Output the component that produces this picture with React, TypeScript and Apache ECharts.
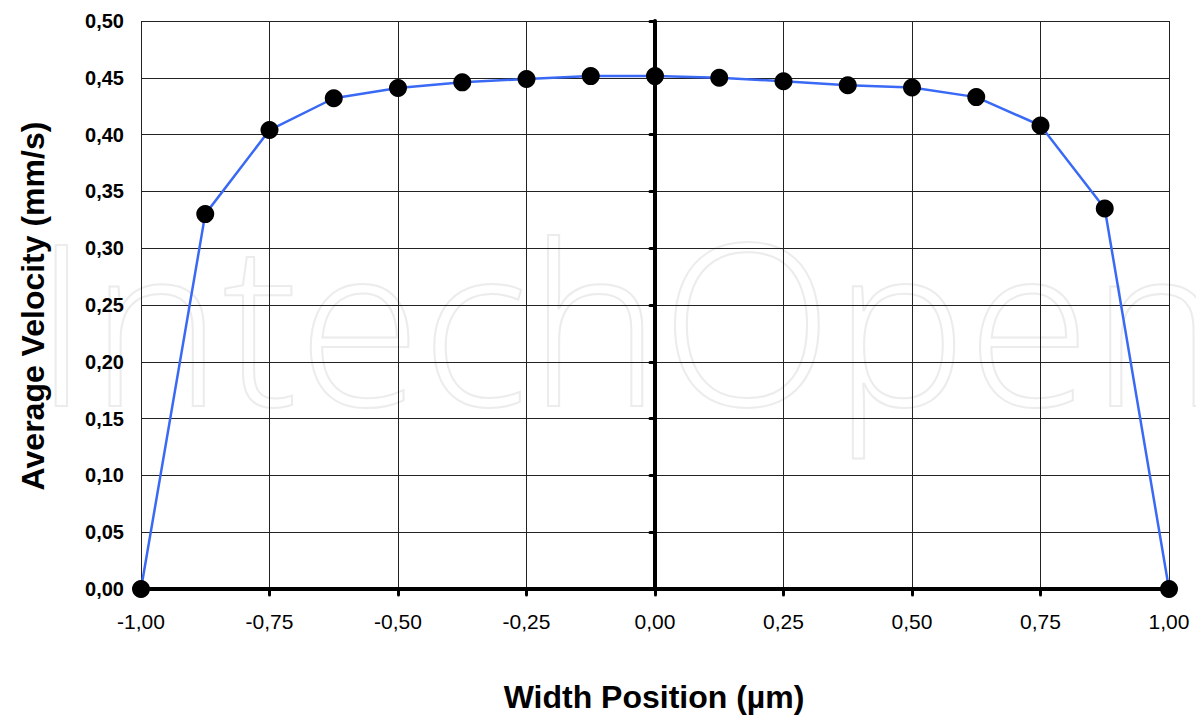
import React, { useEffect, useRef } from "react";
import * as echarts from "echarts";

const xPositions = [-1, -0.875, -0.75, -0.625, -0.5, -0.375, -0.25, -0.125, 0, 0.125, 0.25, 0.375, 0.5, 0.625, 0.75, 0.875, 1];
const velocities = [0, 0.330, 0.404, 0.432, 0.441, 0.446, 0.449, 0.4515, 0.4515, 0.450, 0.447, 0.4435, 0.4415, 0.433, 0.408, 0.335, 0];
const xTitle = "Width Position (µm)";
const yTitle = "Average Velocity (mm/s)";
const watermark = "IntechOpen";

const fmt = (v: number) => v.toFixed(2).replace(".", ",");

export default function App() {
  const ref = useRef<HTMLDivElement>(null);
  useEffect(() => {
    const chart = echarts.init(ref.current!, undefined, { renderer: "svg" });
    const font = "'Liberation Sans', Arial, sans-serif";
    chart.setOption({
      animation: false,
      backgroundColor: "#ffffff",
      graphic: [
        {
          type: "text",
          left: 32,
          top: 205,
          z: -10,
          silent: true,
          style: {
            text: watermark,
            font: "200 225px 'Open Sans', sans-serif",
            fill: "rgba(0,0,0,0)",
            stroke: "#ececec",
            lineWidth: 2,
          },
        },
        {
          type: "text",
          x: 654,
          y: 697,
          style: {
            text: xTitle,
            font: `bold 32px ${font}`,
            fill: "#000",
            align: "center",
            verticalAlign: "middle",
          },
        },
        {
          type: "text",
          x: 33,
          y: 306,
          rotation: Math.PI / 2,
          style: {
            text: yTitle,
            font: `bold 32px ${font}`,
            fill: "#000",
            align: "center",
            verticalAlign: "middle",
          },
        },
      ],
      grid: { left: 141, right: 27, top: 21, bottom: 126, containLabel: false },
      xAxis: {
        type: "value",
        min: -1,
        max: 1,
        interval: 0.25,
        axisLine: { onZero: true, lineStyle: { color: "#000", width: 4 } },
        axisTick: { show: true, length: 6, lineStyle: { color: "#000", width: 3, cap: "round" } },
        axisLabel: { formatter: fmt, fontFamily: font, fontSize: 21, color: "#000", margin: 22 },
        splitLine: { show: true, lineStyle: { color: "#222", width: 1 } },
      },
      yAxis: [
        {
          type: "value",
          min: 0,
          max: 0.5,
          interval: 0.05,
          axisLine: { show: false, onZero: false },
          axisTick: { show: false },
          axisLabel: { formatter: fmt, fontFamily: font, fontSize: 20, fontWeight: "bold", color: "#000", margin: 17 },
          splitLine: { show: true, lineStyle: { color: "#222", width: 1 } },
        },
        {
          type: "value",
          min: 0,
          max: 0.5,
          interval: 0.05,
          position: "left",
          axisLine: { show: true, onZero: true, lineStyle: { color: "#000", width: 4 } },
          axisTick: { show: true, length: 5, lineStyle: { color: "#000", width: 3, cap: "round" } },
          axisLabel: { show: false },
          splitLine: { show: false },
        },
      ],
      series: [
        {
          type: "line",
          yAxisIndex: 0,
          data: xPositions.map((x, i) => [x, velocities[i]]),
          symbol: "circle",
          symbolSize: 18,
          itemStyle: { color: "#000" },
          lineStyle: { color: "#3a6af5", width: 2.5 },
          z: 5,
        },
      ],
    });
    return () => chart.dispose();
  }, []);
  return <div ref={ref} style={{ width: 1196, height: 715, position: "absolute", left: 0, top: 0 }} />;
}
